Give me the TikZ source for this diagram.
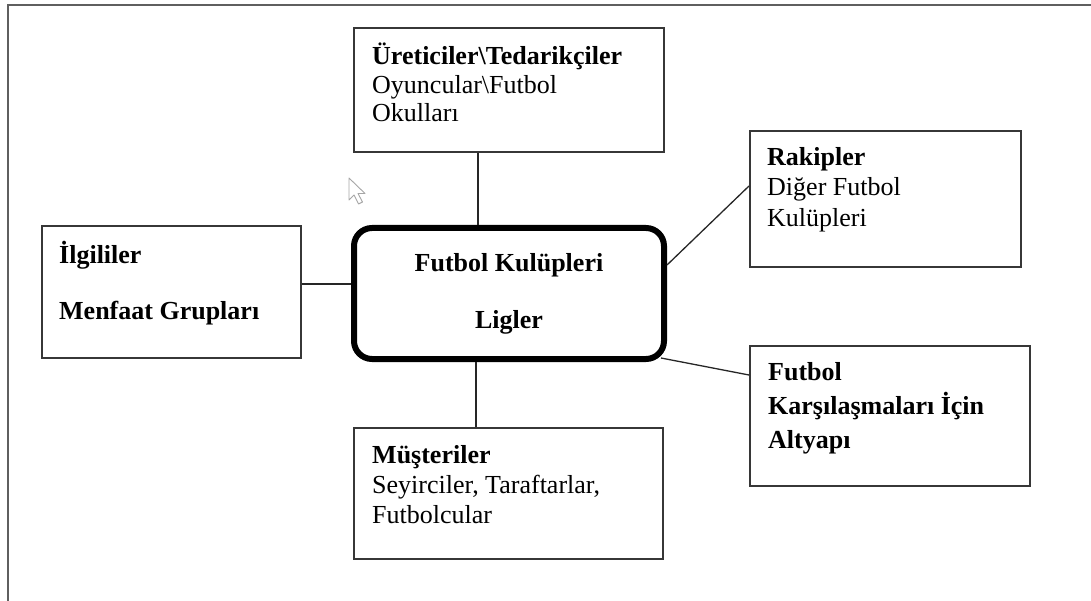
\documentclass[tikz,border=0pt]{standalone}
\usepackage{fontspec}
\setmainfont{Liberation Serif}
\usepackage{tikz}
\usetikzlibrary{positioning}
\definecolor{boxline}{RGB}{55,55,55}
\definecolor{frameline}{RGB}{95,95,95}

\begin{document}
\begin{tikzpicture}[
  x=1pt, y=-1pt,
  every node/.style={font=\fontsize{26}{30}\selectfont},
  box/.style={rectangle, draw=boxline, line width=1.6pt, inner sep=0pt},
  hub/.style={rectangle, rounded corners=18pt, draw=black, line width=6pt, align=center, inner sep=0pt, font=\fontsize{26}{30}\selectfont\bfseries},
  txt/.style={anchor=north west, inner sep=0pt, align=left},
  link/.style={draw=black!85, line width=1.3pt},
  frame/.style={draw=frameline, line width=1.8pt},
  pointer/.style={draw=gray!70, fill=white, line width=0.9pt, line join=round},
]
  \useasboundingbox (0,0) rectangle (1091,601);
  \draw[frame] (8,601) -- (8,5) -- (1091,5);

  \node[hub, minimum width=310, minimum height=131] (club) at (509,293.5) {\strut Futbol Kulüpleri\\[27pt]\strut Ligler};

  \node[box, minimum width=310.4, minimum height=124.4] (uretici) at (509,90) {};
  \node[box, minimum width=259.4, minimum height=132.4] (ilgili) at (171.5,292) {};
  \node[box, minimum width=271.4, minimum height=136.4] (rakip) at (885.5,199) {};
  \node[box, minimum width=309.4, minimum height=131.4] (musteri) at (508.5,493.5) {};
  \node[box, minimum width=280.4, minimum height=140.4] (altyapi) at (890,416) {};

  \node[txt, font=\fontsize{26}{28.5}\selectfont] (uretici-t) at (372,43) {\strut\textbf{Üreticiler\textbackslash Tedarikçiler}\\\strut Oyuncular\textbackslash Futbol\\\strut Okulları};
  \node[txt, font=\fontsize{26}{30}\selectfont\bfseries] (ilgili-t) at (59,241) {\strut İlgililer\\[26pt]\strut Menfaat Grupları};
  \node[txt, font=\fontsize{26}{30.5}\selectfont] (rakip-t) at (767,143.6) {\strut\textbf{Rakipler}\\\strut Diğer Futbol\\\strut Kulüpleri};
  \node[txt] (musteri-t) at (372,442) {\strut\textbf{Müşteriler}\\\strut Seyirciler, Taraftarlar,\\\strut Futbolcular};
  \node[txt, font=\fontsize{26}{34}\selectfont\bfseries] (altyapi-t) at (768,356.2) {\strut Futbol\\\strut Karşılaşmaları İçin\\\strut Altyapı};

  \draw[link] (uretici.south -| 478,0) -- (club.north -| 478,0);
  \draw[link] (ilgili.east |- 0,284) -- (club.west |- 0,284);
  \draw[link] (club.south -| 476,0) -- (musteri.north -| 476,0);
  \draw[link] (club.east |- 0,265) -- (rakip.west |- 0,186);
  \draw[link] ([xshift=-6pt,yshift=4pt]club.south east) -- (altyapi.west |- 0,375);

  \draw[pointer] (349,178) -- ++(0,22) -- ++(5,-5) -- ++(4.5,9) -- ++(4,-2) -- ++(-4.5,-8.5) -- ++(7,0) -- cycle;
\end{tikzpicture}
\end{document}
